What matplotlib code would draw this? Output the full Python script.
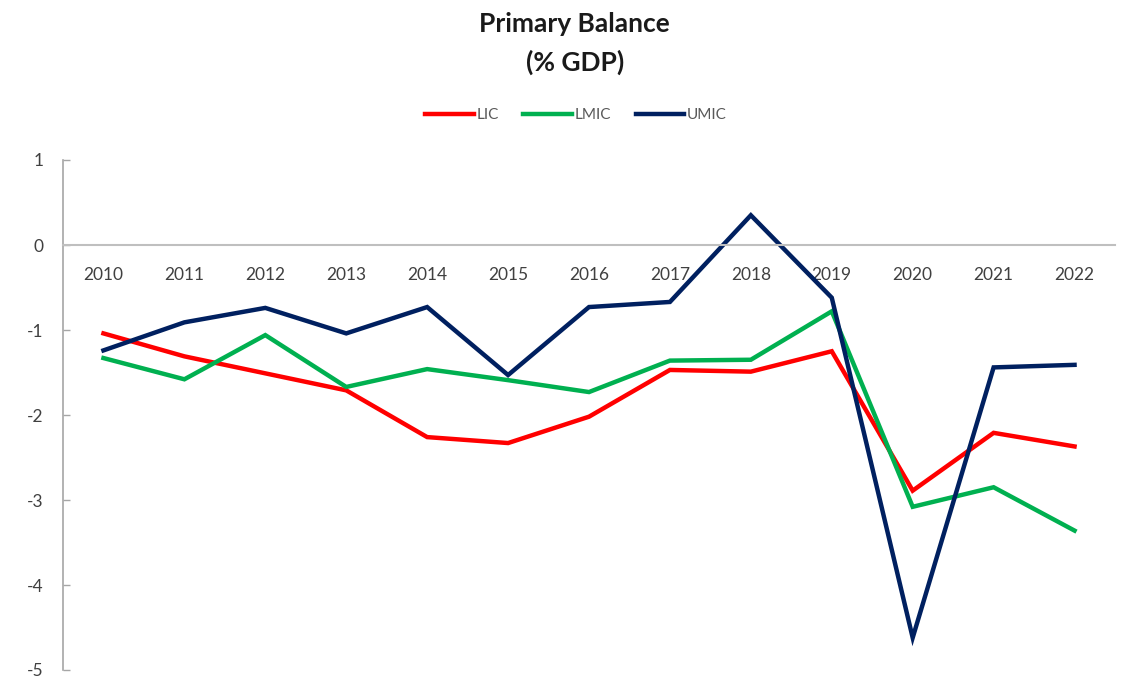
import numpy as np
import matplotlib.pyplot as plt

plt.rcParams['font.family'] = ['Lato', 'DejaVu Sans']
plt.rcParams['axes.unicode_minus'] = False

years = ['2010', '2011', '2012', '2013', '2014', '2015', '2016',
         '2017', '2018', '2019', '2020', '2021', '2022']
lic = [-1.04, -1.31, -1.51, -1.71, -2.26, -2.33, -2.02,
       -1.47, -1.49, -1.25, -2.89, -2.21, -2.37]
lmic = [-1.33, -1.58, -1.06, -1.67, -1.46, -1.59, -1.73,
        -1.36, -1.35, -0.78, -3.08, -2.85, -3.36]
umic = [-1.24, -0.91, -0.74, -1.04, -0.73, -1.53, -0.73,
        -0.67, 0.35, -0.62, -4.62, -1.44, -1.41]

series = [('LIC', lic, '#FF0000'),
          ('LMIC', lmic, '#00B050'),
          ('UMIC', umic, '#002060')]

fig = plt.figure(figsize=(11.27, 6.81), dpi=100)
ax = fig.add_axes([63 / 1127, 11 / 681, 1052 / 1127, 510 / 681])

x = np.arange(len(years))
for name, vals, col in series:
    ax.plot(x, vals, color=col, lw=3.2, label=name, solid_joinstyle='miter')

ax.set_xlim(-0.5, len(years) - 0.5)
ax.set_ylim(-5, 1)
ax.set_yticks(range(-5, 2))
ax.set_xticks(x)
ax.set_xticklabels(years)

for s in ['top', 'right']:
    ax.spines[s].set_visible(False)
ax.spines['bottom'].set_position(('data', 0))
ax.spines['bottom'].set_color('#BFBFBF')
ax.spines['bottom'].set_linewidth(1.5)
ax.spines['left'].set_color('#A6A6A6')
ax.spines['left'].set_linewidth(1.2)

ax.tick_params(axis='x', length=0, pad=16, labelsize=12.5, labelcolor='#404040')
ax.tick_params(axis='y', direction='in', length=5, width=1, color='#A6A6A6',
               pad=14, labelsize=12.5, labelcolor='#404040')

fig.text(0.51, 0.965, 'Primary Balance', ha='center', va='center',
         fontsize=19, fontweight='bold', color='#1a1a1a')
fig.text(0.51, 0.908, '(% GDP)', ha='center', va='center',
         fontsize=19, fontweight='bold', color='#1a1a1a')

ax.legend(loc='center', bbox_to_anchor=(576 / 1127, 1 - 115 / 681),
          bbox_transform=fig.transFigure, ncol=3, frameon=False,
          fontsize=11, handlelength=3.2, handletextpad=0.15,
          columnspacing=1.6, labelcolor='#595959')

fig.savefig('out.png', dpi=100)
